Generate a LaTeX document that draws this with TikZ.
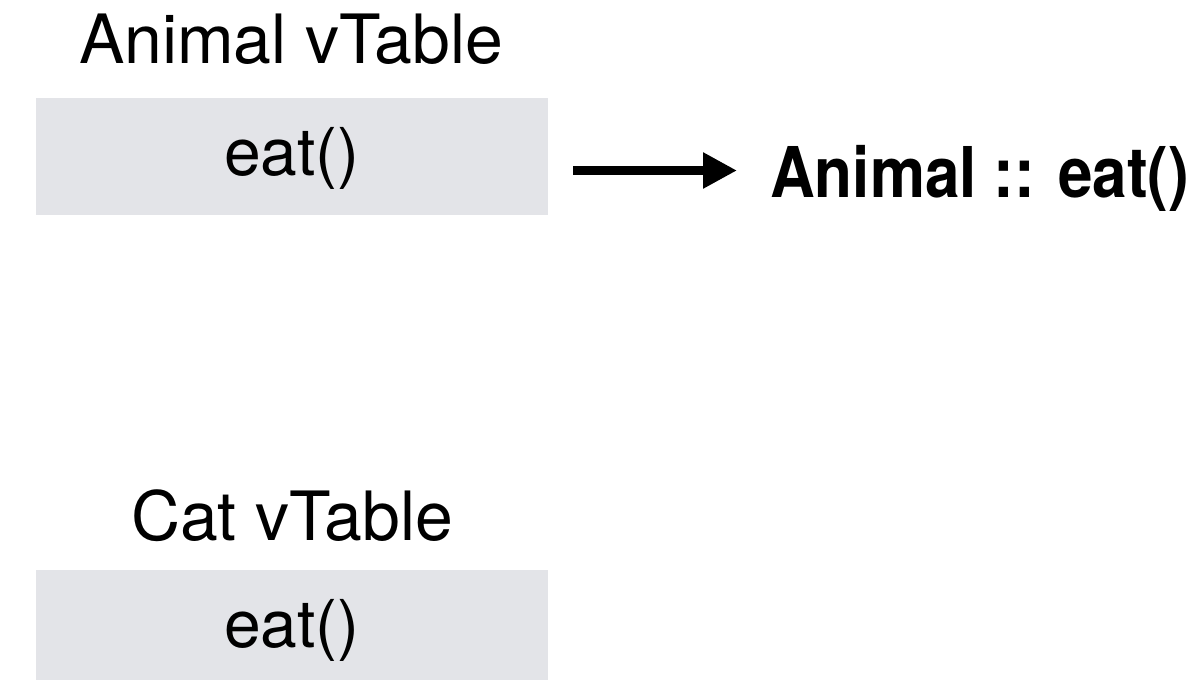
\documentclass[tikz,border=0pt]{standalone}
\usepackage{fontspec}
\setmainfont{TeX Gyre Heros}
\usetikzlibrary{positioning, arrows.meta}
\definecolor{cellgray}{HTML}{E3E4E8}

\begin{document}
\begin{tikzpicture}[
        x=1pt, y=-1pt,
        title/.style={
          anchor=base,
          inner sep=0pt,
          font=\fontsize{68}{72}\selectfont
        },
        cell/.style={
          rectangle,
          fill=cellgray,
          minimum width=512pt,
          minimum height=117pt,
          inner sep=0pt,
          text height=50pt,
          text depth=12pt,
          font=\fontsize{66}{70}\selectfont
        },
        impl/.style={
          anchor=west,
          inner sep=0pt,
          text height=53pt,
          text depth=0pt,
          font=\fontsize{70}{76}\selectfont\bfseries
        },
        pointer/.style={
          -{Triangle[length=34pt,width=34pt]},
          line width=9pt,
          draw=black
        }
      ]

      \useasboundingbox (0,0) rectangle (1195,680);
      \clip (0,0) rectangle (1195,680);

      % Nodes
      \node [title] (animalTitle) at (291,63) {Animal vTable};
      \node [cell] (animalEat) at (292,156.5) {eat()};
      \node [impl] (animalImpl) at (770,170.5) {\scalebox{0.885}[1]{Animal :: eat()}};

      \node [title] (catTitle) at (292,540) {Cat vTable};
      \node [cell] (catEat) at (292,628.5) {eat()};

      % Pointer Arrow
      \draw [pointer, shorten <=25pt, shorten >=33pt] (animalEat.east |- animalImpl.west) -- (animalImpl.west);

    \end{tikzpicture}
\end{document}
